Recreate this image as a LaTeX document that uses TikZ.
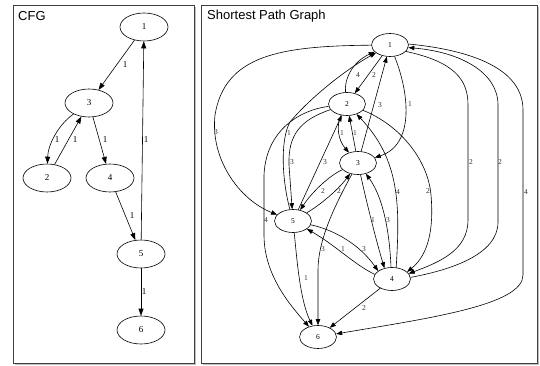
\documentclass[tikz,border=0pt]{standalone}
\usepackage{fontspec}
\setmainfont{Liberation Serif}
\newfontfamily\titlefont{Liberation Sans}
\usetikzlibrary{shapes.geometric,arrows.meta}
\begin{document}
\begin{tikzpicture}[x=1pt,y=-1pt,
  cnode/.style={ellipse,draw,line width=0.6pt,minimum width=48pt,minimum height=28pt,inner sep=0pt,font=\fontsize{9}{9}\selectfont},
  rnode/.style={ellipse,draw,line width=0.6pt,minimum width=37pt,minimum height=23pt,inner sep=0pt,font=\fontsize{7.5}{7.5}\selectfont},
  cedge/.style={line width=0.6pt,-{Triangle[length=7pt,width=5pt]}},
  redge/.style={line width=0.6pt,-{Triangle[length=6pt,width=4.4pt]}},
  clbl/.style={inner sep=0pt,font=\fontsize{9}{9}\selectfont},
  rlbl/.style={inner sep=0pt,font=\fontsize{7.5}{7.5}\selectfont,text=black!80},
  panel/.style={draw=black!75,line width=0.8pt,fill=white},
  shadowbox/.style={fill=black!25},
  title/.style={anchor=west,inner sep=0pt,font=\titlefont\fontsize{13}{13}\selectfont}
]
\useasboundingbox (0,0) rectangle (540,366);
% panels
\fill[shadowbox] (15,7) rectangle (196,365);
\draw[panel] (13,5) rectangle (194,363);
\fill[shadowbox] (203,7) rectangle (539,365);
\draw[panel] (201,5) rectangle (537,363);
\node[title] (t1) at (18,16) {CFG};
\node[title] (t2) at (207,16) {Shortest Path Graph};

% ---------- CFG ----------
\node[cnode] (c1) at (144,27) {1};
\node[cnode] (c3) at (89,103) {3};
\node[cnode] (c2) at (47,178) {2};
\node[cnode] (c4) at (110,178) {4};
\node[cnode] (c5) at (141,254) {5};
\node[cnode] (c6) at (141,330) {6};
\draw[cedge] (c1) -- (c3);
\draw[cedge] (c3) .. controls (58,125) and (48,145) .. (c2);
\draw[cedge] (c2) -- (c3);
\draw[cedge] (c3) -- (c4);
\draw[cedge] (c4) -- (c5);
\draw[cedge] (c5) -- (c1);
\draw[cedge] (c5) -- (c6);
\node[clbl] (cl13) at (125,65) {1};
\node[clbl] (cl32) at (57,140) {1};
\node[clbl] (cl23) at (75,140) {1};
\node[clbl] (cl34) at (105,140) {1};
\node[clbl] (cl51) at (146,140) {1};
\node[clbl] (cl45) at (132,216) {1};
\node[clbl] (cl56) at (144,292) {1};

% ---------- Shortest Path Graph ----------
\node[rnode] (r1) at (390,45) {1};
\node[rnode] (r2) at (347,104) {2};
\node[rnode] (r3) at (358,163) {3};
\node[rnode] (r5) at (293,221) {5};
\node[rnode] (r4) at (392,279) {4};
\node[rnode] (r6) at (318,337) {6};

\draw[redge] (r1) -- (r2);
\draw[redge] (r2) .. controls (344,80) and (352,62) .. (r1);
\draw[redge] (r3) -- (r1);
\draw[redge] (r1) .. controls (410,95) and (414,145) .. (r3);
\draw[redge] (r1.-22) .. controls (455,62) and (468,80) .. (468,105) -- (468,220) .. controls (468,250) and (440,262) .. (r4.18);
\draw[redge] (r4.5) .. controls (450,270) and (498,255) .. (498,222) -- (498,105) .. controls (498,72) and (460,52) .. (r1.-8);
\draw[redge] (r1.3) .. controls (470,50) and (523,68) .. (523,110) -- (523,275) .. controls (523,305) and (430,318) .. (r6);
\draw[redge] (r1) .. controls (280,46) and (225,55) .. (215,115) .. controls (210,160) and (240,200) .. (r5);
\draw[redge] (r5) .. controls (282,180) and (280,140) .. (290,122) .. controls (310,98) and (345,70) .. (r1);
\draw[redge] (r2) .. controls (336,125) and (338,140) .. (r3);
\draw[redge] (r3) -- (r2);
\draw[redge] (r2) .. controls (300,120) and (288,135) .. (289,165) -- (r5);
\draw[redge] (r5) -- (r2);
\draw[redge] (r2) .. controls (300,110) and (266,130) .. (264,175) -- (264,235) .. controls (264,275) and (290,305) .. (r6);
\draw[redge] (r2) .. controls (400,125) and (428,160) .. (431,195) .. controls (434,230) and (428,255) .. (r4.25);
\draw[redge] (r4.70) .. controls (400,205) and (400,160) .. (r2);
\draw[redge] (r3) .. controls (330,175) and (312,192) .. (r5);
\draw[redge] (r5) .. controls (320,205) and (338,190) .. (r3);
\draw[redge] (r3) .. controls (366,200) and (376,240) .. (r4.125);
\draw[redge] (r4.95) .. controls (390,240) and (385,200) .. (r3);
\draw[redge] (r3) .. controls (335,205) and (318,240) .. (318,270) -- (r6);
\draw[redge] (r4.165) .. controls (355,265) and (335,245) .. (r5);
\draw[redge] (r5) .. controls (335,230) and (360,245) .. (r4.150);
\draw[redge] (r4) -- (r6);
\draw[redge] (r5) .. controls (297,260) and (300,300) .. (r6);

\node[rlbl] (l12) at (374,75) {2};
\node[rlbl] (l21) at (358,75) {4};
\node[rlbl] (l31) at (380,105) {3};
\node[rlbl] (l13) at (410,104) {1};
\node[rlbl] (l15) at (216,132) {3};
\node[rlbl] (l51) at (289,133) {1};
\node[rlbl] (l14) at (471,162) {2};
\node[rlbl] (l41) at (500,162) {2};
\node[rlbl] (l16) at (526,192) {4};
\node[rlbl] (l23) at (342,133) {1};
\node[rlbl] (l32) at (355,133) {1};
\node[rlbl] (l25) at (292,162) {3};
\node[rlbl] (l52) at (325,162) {3};
\node[rlbl] (l26) at (266,220) {4};
\node[rlbl] (l24) at (428,191) {2};
\node[rlbl] (l42) at (398,192) {4};
\node[rlbl] (l35) at (323,191) {2};
\node[rlbl] (l53) at (339,191) {2};
\node[rlbl] (l34) at (373,220) {1};
\node[rlbl] (l43) at (388,220) {3};
\node[rlbl] (l36) at (323,249) {3};
\node[rlbl] (l45) at (343,249) {1};
\node[rlbl] (l54) at (364,249) {3};
\node[rlbl] (l56) at (306,278) {1};
\node[rlbl] (l46) at (364,308) {2};
\end{tikzpicture}
\end{document}
